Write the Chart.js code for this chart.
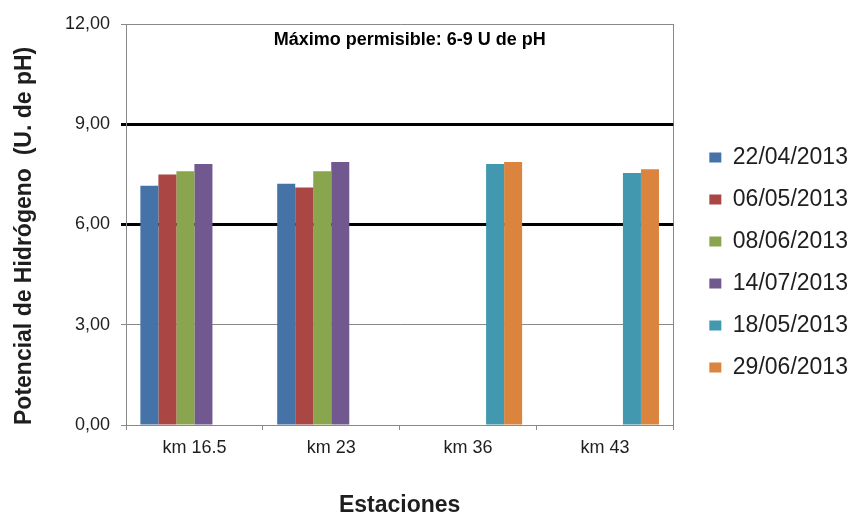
<!DOCTYPE html>
<html>
<head>
<meta charset="utf-8">
<title>Potencial de Hidrógeno por estación</title>
<script src="https://cdn.jsdelivr.net/npm/chart.js@4.4.1/dist/chart.umd.min.js"></script>
<style>
  html, body { margin: 0; padding: 0; background: #fff; }
</style>
</head>
<body>
<canvas id="phChart" width="852" height="519"></canvas>
<script>
// stations on the x axis
const stations = ['km 16.5', 'km 23', 'km 36', 'km 43'];

// one series per sampling date (null = not sampled at that station)
const sampleDates = ['22/04/2013', '06/05/2013', '08/06/2013', '14/07/2013', '18/05/2013', '29/06/2013'];
const ph_22_04 = [7.16, 7.22, null, null];
const ph_06_05 = [7.50, 7.11, null, null];
const ph_08_06 = [7.59, 7.59, null, null];
const ph_14_07 = [7.81, 7.87, null, null];
const ph_18_05 = [null, null, 7.81, 7.54];
const ph_29_06 = [null, null, 7.87, 7.65];
const seriesValues = [ph_22_04, ph_06_05, ph_08_06, ph_14_07, ph_18_05, ph_29_06];
const seriesColors = ['#4572a7', '#aa4643', '#89a54e', '#71588f', '#4198af', '#db843d'];

// y axis
const yMin = 0;
const yMax = 12;
const yStep = 3;
const limitValues = [6, 9];
const noteText = 'Máximo permisible: 6-9 U de pH';
const noteValue = 11.53;

const FONT = '"Liberation Sans", Arial, sans-serif';
const GREY = '#898989';
const INK = '#1e1e1e';

const isLimit = c => c.tick && limitValues.includes(c.tick.value);

// move the legend block next to the plot, like the spreadsheet does
const legendPlacer = {
  id: 'legendPlacer',
  afterLayout(chart) {
    const lg = chart.legend;
    lg.left = chart.chartArea.right + 17;
    lg.right = chart.width;
    lg.top = 127;
  }
};

// text note inside the plot area
const notePlugin = {
  id: 'notePlugin',
  afterDraw(chart) {
    const { ctx, chartArea } = chart;
    const y = chart.scales.y.getPixelForValue(noteValue);
    ctx.save();
    ctx.font = 'bold 18px ' + FONT;
    ctx.fillStyle = '#000';
    ctx.textAlign = 'center';
    ctx.textBaseline = 'middle';
    ctx.fillText(noteText, (chartArea.left + chartArea.right) / 2 + 10, y);
    ctx.restore();
  }
};

const datasets = sampleDates.map((d, i) => ({
  label: d,
  data: seriesValues[i],
  backgroundColor: seriesColors[i],
  borderWidth: 0,
  categoryPercentage: 0.79,
  barPercentage: 1.0
}));

const ctx = document.getElementById('phChart').getContext('2d');
new Chart(ctx, {
  type: 'bar',
  data: { labels: stations, datasets },
  plugins: [legendPlacer, notePlugin],
  options: {
    responsive: false,
    animation: false,
    devicePixelRatio: 1,
    layout: { padding: { top: 24, right: 44, bottom: 0, left: 0 } },
    plugins: {
      tooltip: { enabled: false },
      legend: {
        position: 'right',
        align: 'start',
        labels: {
          boxWidth: 12,
          boxHeight: 10,
          padding: 19,
          color: INK,
          font: { family: FONT, size: 23 }
        }
      }
    },
    scales: {
      x: {
        type: 'category',
        offset: true,
        grid: {
          offset: true,
          color: c => c.type === 'tick' ? 'rgba(0,0,0,0)' : GREY,
          tickColor: GREY,
          tickLength: 5,
          lineWidth: 1
        },
        border: { color: GREY, width: 1 },
        ticks: { padding: 7, color: INK, font: { family: FONT, size: 18 } },
        title: {
          display: true,
          text: 'Estaciones',
          color: INK,
          font: { family: FONT, size: 23, weight: 'bold' },
          padding: { top: 0, bottom: 0 }
        },
        afterFit: s => { s.height = 94; }
      },
      y: {
        position: 'left',
        weight: 1,
        min: yMin,
        max: yMax,
        grid: { color: GREY, lineWidth: 1, tickLength: 5 },
        border: { color: GREY, width: 1 },
        ticks: {
          stepSize: yStep,
          padding: 11,
          color: INK,
          font: { family: FONT, size: 18 },
          callback: v => v.toFixed(2).replace('.', ',')
        },
        title: {
          display: true,
          text: 'Potencial de Hidrógeno  (U. de pH)',
          align: 'start',
          color: INK,
          font: { family: FONT, size: 23, weight: 'bold' },
          padding: { top: 11, bottom: 0 }
        },
        afterFit: s => { s.width = 126; }
      },
      // permissible limits drawn on top of the bars
      yLimits: {
        position: 'left',
        weight: 0,
        z: 1,
        min: yMin,
        max: yMax,
        grid: {
          color: c => isLimit(c) ? '#000' : 'rgba(0,0,0,0)',
          lineWidth: c => isLimit(c) ? 3 : 0,
          tickLength: 5
        },
        border: { display: false },
        ticks: { stepSize: yStep, display: false },
        afterFit: s => { s.width = 0; }
      }
    }
  }
});
</script>
</body>
</html>
